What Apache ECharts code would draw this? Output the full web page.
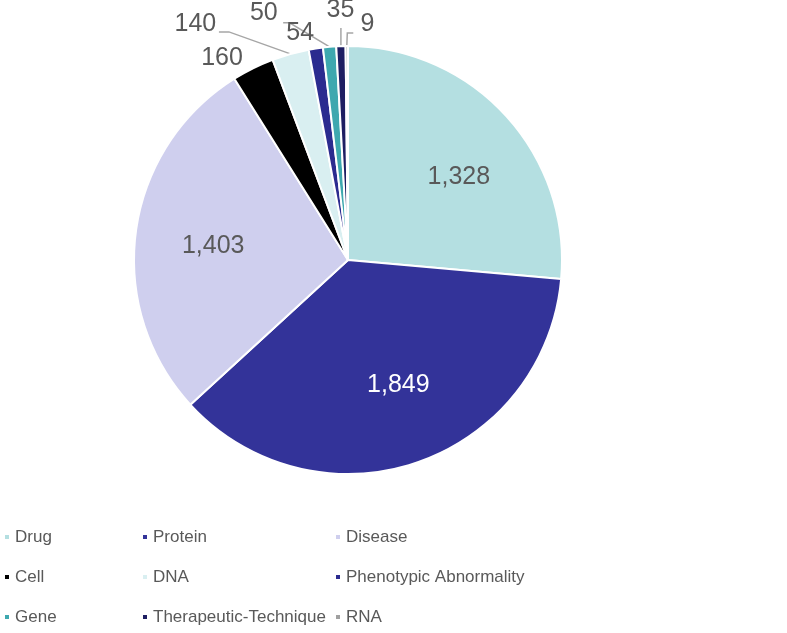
<!DOCTYPE html>
<html>
<head>
<meta charset="utf-8">
<script src="https://cdn.jsdelivr.net/npm/echarts@6/dist/echarts.min.js"></script>
<style>
  html, body { margin: 0; padding: 0; background: #fff; }
  #chart { width: 787px; height: 633px; }
</style>
</head>
<body>
<div id="chart"></div>
<script>
// ---- data ----
const categories = ['Drug', 'Protein', 'Disease', 'Cell', 'DNA', 'Phenotypic Abnormality', 'Gene', 'Therapeutic-Technique', 'RNA'];
const values = [1328, 1849, 1403, 160, 140, 54, 50, 35, 9];
const legendCol1 = ['Drug', 'Cell', 'Gene'];
const legendCol2 = ['Protein', 'DNA', 'Therapeutic-Technique'];
const legendCol3 = ['Disease', 'Phenotypic Abnormality', 'RNA'];

// ---- styles ----
const colors = ['#b4dfe1', '#333399', '#cfcfee', '#000000', '#d9eff1', '#2b2b8f', '#3ea8af', '#1e1e62', '#a0a0a0'];
const FONT = "'Liberation Sans', Arial, sans-serif";
const TEXT = '#595959';
const CX = 348, CY = 260, R = 214;
// label placement: inner labels offset from point at 0.645R on mid-angle;
// outer labels offset from slice edge point on mid-angle
const labelPlacement = {
  'Drug': { inner: true, off: [9, 10] },
  'Protein': { inner: true, off: [6, -6], color: '#ffffff' },
  'Disease': { inner: true, off: [2, 5] },
  'Cell': { off: [-31, -10] },
  'DNA': { off: [-95, -30], line: [[-61.5, -22], [-71.5, -22]] },
  'Phenotypic Abnormality': { off: [-15.6, -15.5] },
  'Gene': { off: [-65.7, -33.3], line: [[-40, -24], [-46.4, -24.1]] },
  'Therapeutic-Technique': { off: [-0.5, -36.5], line: [[0, -18], [0, -18]] },
  'RNA': { off: [20.7, -22], line: [[0.5, -13], [6.5, -13]] }
};

const total = values.reduce((a, b) => a + b, 0);
function midAngle(i) {
  let before = 0;
  for (let k = 0; k < i; k++) before += values[k];
  return 2 * Math.PI * (before + values[i] / 2) / total;
}
function polar(theta, rho) {
  return [CX + rho * Math.sin(theta), CY - rho * Math.cos(theta)];
}

const chart = echarts.init(document.getElementById('chart'), null, { renderer: 'canvas' });

const seriesData = categories.map((name, i) => {
  const p = labelPlacement[name];
  return {
    name: name,
    value: values[i],
    itemStyle: { color: colors[i] },
    label: { color: p.color || TEXT, position: p.inner ? 'inside' : 'outside' },
    labelLine: { show: !!p.line }
  };
});

function makeLegend(col, left) {
  return {
    data: col,
    orient: 'vertical',
    left: left,
    top: 525,
    padding: 0,
    itemGap: 16,
    itemWidth: 6,
    itemHeight: 6,
    icon: 'rect',
    selectedMode: false,
    textStyle: { color: TEXT, fontSize: 17, fontFamily: FONT, lineHeight: 24 }
  };
}

const option = {
  animation: false,
  backgroundColor: '#ffffff',
  legend: [makeLegend(legendCol1, 3), makeLegend(legendCol2, 141), makeLegend(legendCol3, 334)],
  series: [{
    type: 'pie',
    center: [CX, CY],
    radius: [0, R],
    startAngle: 90,
    clockwise: true,
    avoidLabelOverlap: false,
    itemStyle: { borderColor: '#ffffff', borderWidth: 2 },
    emphasis: { disabled: true },
    label: {
      show: true,
      fontFamily: FONT,
      fontSize: 25,
      color: TEXT,
      formatter: p => p.value.toLocaleString('en-US')
    },
    labelLine: {
      lineStyle: { color: '#a6a6a6', width: 1.5 },
      length: 10,
      length2: 5
    },
    labelLayout: function (params) {
      const i = params.dataIndex;
      const name = categories[i];
      const p = labelPlacement[name];
      const theta = midAngle(i);
      const base = p.inner ? polar(theta, 0.645 * R) : polar(theta, R);
      const res = {
        x: base[0] + p.off[0],
        y: base[1] + p.off[1],
        align: 'center',
        verticalAlign: 'middle'
      };
      if (p.line) {
        res.labelLinePoints = [
          [base[0], base[1]],
          [base[0] + p.line[0][0], base[1] + p.line[0][1]],
          [base[0] + p.line[1][0], base[1] + p.line[1][1]]
        ];
      }
      return res;
    },
    data: seriesData
  }]
};

chart.setOption(option);
</script>
</body>
</html>
